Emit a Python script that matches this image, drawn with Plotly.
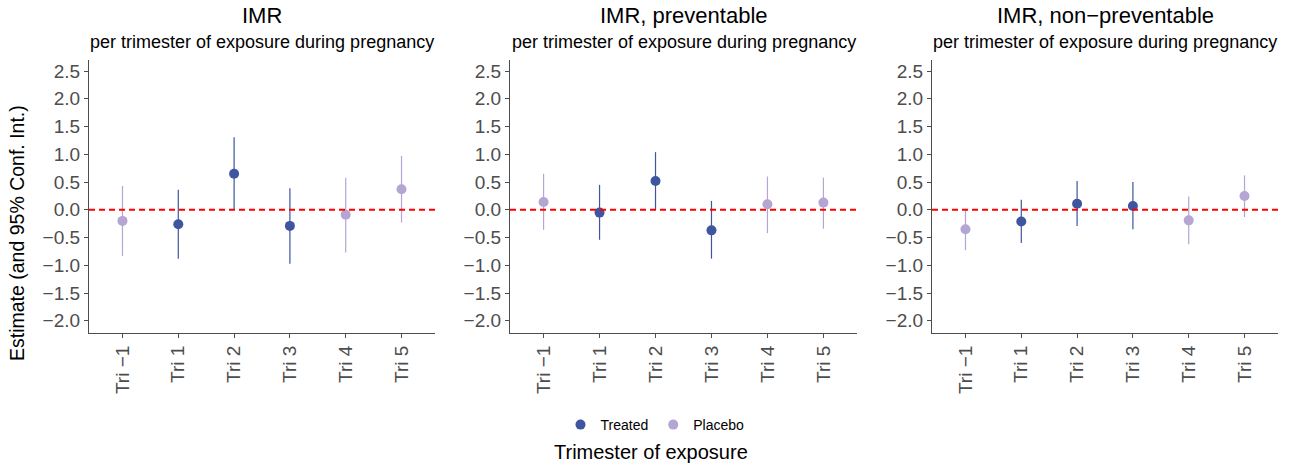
import plotly.graph_objects as go

# Trimester categories shared by all three panels
trimesters = ["Tri −1", "Tri 1", "Tri 2", "Tri 3", "Tri 4", "Tri 5"]
groups = ["Placebo", "Treated", "Treated", "Treated", "Placebo", "Placebo"]

panel_titles = ["IMR", "IMR, preventable", "IMR, non−preventable"]
subtitle = "per trimester of exposure during pregnancy"

# Point estimates and 95% confidence bounds per panel
imr_est = [-0.20, -0.26, 0.65, -0.29, -0.09, 0.37]
imr_lo = [-0.83, -0.88, 0.00, -0.97, -0.77, -0.23]
imr_hi = [0.43, 0.36, 1.31, 0.39, 0.58, 0.97]

prev_est = [0.14, -0.05, 0.52, -0.37, 0.10, 0.13]
prev_lo = [-0.36, -0.54, 0.00, -0.88, -0.42, -0.34]
prev_hi = [0.65, 0.45, 1.04, 0.16, 0.60, 0.58]

nonprev_est = [-0.35, -0.21, 0.11, 0.07, -0.19, 0.25]
nonprev_lo = [-0.73, -0.60, -0.29, -0.35, -0.62, -0.13]
nonprev_hi = [0.02, 0.18, 0.52, 0.50, 0.24, 0.62]

y_ticks = [-2.0, -1.5, -1.0, -0.5, 0.0, 0.5, 1.0, 1.5, 2.0, 2.5]

colors = {"Treated": "#3F55A0", "Placebo": "#B4A5D2"}
panels = [
    (imr_est, imr_lo, imr_hi),
    (prev_est, prev_lo, prev_hi),
    (nonprev_est, nonprev_lo, nonprev_hi),
]

W, H = 1298, 468
x_px = [(89, 435), (510, 857), (932, 1278)]
y_top, y_bot = 60, 333
FONT = "Liberation Sans, Arial, Helvetica, sans-serif"

fig = go.Figure()
annotations = []
shapes = []

for p, (est, lo, hi) in enumerate(panels):
    xa = "x" if p == 0 else f"x{p + 1}"
    ya = "y" if p == 0 else f"y{p + 1}"
    for g in ["Treated", "Placebo"]:
        idx = [i for i, gg in enumerate(groups) if gg == g]
        fig.add_trace(go.Scatter(
            x=[trimesters[i] for i in idx],
            y=[est[i] for i in idx],
            mode="markers",
            marker=dict(color=colors[g], size=10),
            error_y=dict(
                type="data", symmetric=False,
                array=[hi[i] - est[i] for i in idx],
                arrayminus=[est[i] - lo[i] for i in idx],
                width=0, thickness=1.2, color=colors[g],
            ),
            name=g,
            showlegend=(p == 0),
            legendrank=1 if g == "Treated" else 2,
            xaxis=xa, yaxis=ya,
        ))

    x0, x1 = x_px[p]
    dom_x = [x0 / W, x1 / W]
    dom_y = [(H - y_bot) / H, (H - y_top) / H]
    axis_common = dict(
        showline=True, linecolor="#4D4D4D", linewidth=1.2,
        ticks="outside", ticklen=4, tickcolor="#4D4D4D", tickwidth=1,
        showgrid=False, zeroline=False, automargin=False,
        tickfont=dict(family=FONT, size=19, color="#4D4D4D"),
    )
    fig.update_layout(**{
        ("xaxis" if p == 0 else f"xaxis{p + 1}"): dict(
            axis_common, domain=dom_x, anchor=ya, type="category",
            categoryorder="array", categoryarray=trimesters,
            range=[-0.6, 5.6], tickangle=-90,
        ),
        ("yaxis" if p == 0 else f"yaxis{p + 1}"): dict(
            axis_common, domain=dom_y, anchor=xa, range=[-2.22, 2.70],
            tickvals=y_ticks, tickformat=".1f",
        ),
    })

    shapes.append(dict(
        type="line", xref=f"{xa} domain", yref=ya, x0=0, x1=1, y0=0, y1=0,
        line=dict(color="#FF0000", width=2, dash="6px,4px"), layer="above",
    ))

    cx = (dom_x[0] + dom_x[1]) / 2
    annotations.append(dict(
        text=panel_titles[p], x=cx, y=1 - 16 / H, xref="paper", yref="paper",
        showarrow=False, xanchor="center", yanchor="middle",
        font=dict(family=FONT, size=22, color="#000000"),
    ))
    annotations.append(dict(
        text=subtitle, x=cx, y=1 - 42 / H, xref="paper", yref="paper",
        showarrow=False, xanchor="center", yanchor="middle",
        font=dict(family=FONT, size=18, color="#000000"),
    ))

annotations.append(dict(
    text="Estimate (and 95% Conf. Int.)", x=17 / W, y=1 - 233 / H,
    xref="paper", yref="paper", showarrow=False, textangle=-90,
    xanchor="center", yanchor="middle",
    font=dict(family=FONT, size=19.5, color="#000000"),
))
annotations.append(dict(
    text="Trimester of exposure", x=651 / W, y=1 - 452 / H,
    xref="paper", yref="paper", showarrow=False,
    xanchor="center", yanchor="middle",
    font=dict(family=FONT, size=20, color="#000000"),
))

fig.update_layout(
    width=W, height=H,
    margin=dict(l=0, r=0, t=0, b=0),
    paper_bgcolor="white", plot_bgcolor="white",
    annotations=annotations, shapes=shapes,
    showlegend=True,
    legend=dict(
        orientation="h", x=655 / W, y=1 - 425 / H,
        xanchor="center", yanchor="middle",
        font=dict(family=FONT, size=14, color="#000000"),
        itemwidth=30, bgcolor="rgba(0,0,0,0)",
    ),
)

fig.write_html("out.html")
